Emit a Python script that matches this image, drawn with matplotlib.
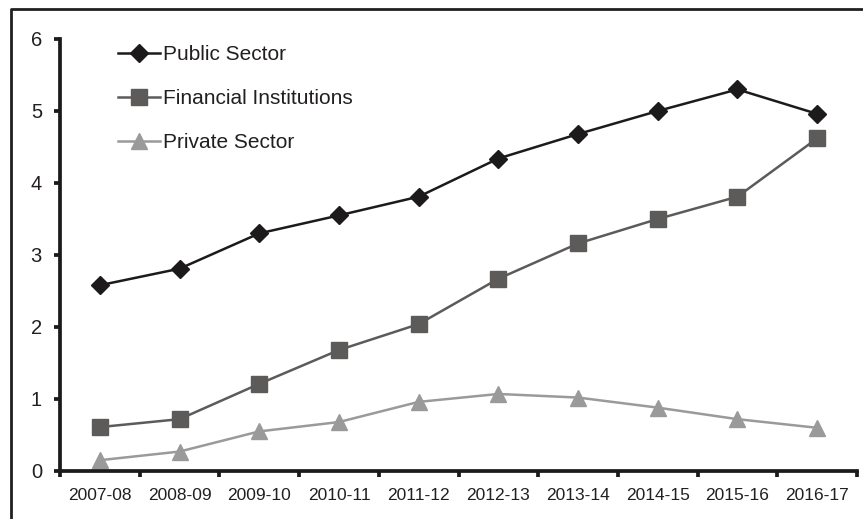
import matplotlib
matplotlib.use('Agg')
import matplotlib.pyplot as plt
from matplotlib.lines import Line2D
import numpy as np

years = ['2007-08', '2008-09', '2009-10', '2010-11', '2011-12',
         '2012-13', '2013-14', '2014-15', '2015-16', '2016-17']
public_sector = [2.58, 2.81, 3.30, 3.55, 3.81, 4.34, 4.68, 5.00, 5.30, 4.96]
financial_inst = [0.61, 0.72, 1.21, 1.68, 2.04, 2.67, 3.16, 3.50, 3.81, 4.62]
private_sector = [0.15, 0.27, 0.55, 0.68, 0.96, 1.07, 1.02, 0.88, 0.72, 0.60]

plt.rcParams['font.family'] = ['Liberation Sans', 'DejaVu Sans']
txt = '#231f20'

fig = plt.figure(figsize=(8.63, 5.19), dpi=100)
ax = fig.add_axes([60 / 863, 1 - 471 / 519, 797 / 863, 432 / 519])

x = np.arange(len(years))
ax.plot(x, public_sector, color='#1c1a1a', lw=1.8, marker='D', ms=8.8,
        label='Public Sector')
ax.plot(x, financial_inst, color='#5d5a5a', lw=1.8, marker='s', ms=11.5,
        label='Financial Institutions')
ax.plot(x, private_sector, color='#9a9a9a', lw=1.8, marker='^', ms=11.5,
        label='Private Sector')

ax.set_xlim(-0.5, len(years) - 0.5)
ax.set_ylim(0, 6)
ax.set_yticks(range(7))

# category boundaries get the tick marks, labels sit in between
ax.set_xticks(np.arange(len(years) + 1) - 0.5)
ax.set_xticklabels([])
ax.set_xticks(x, minor=True)
ax.set_xticklabels(years, minor=True)
ax.tick_params(axis='x', which='minor', length=0, pad=12, labelsize=12.5,
               labelcolor=txt)
ax.tick_params(axis='x', which='major', length=4, width=2.7, color='#1c1a1a')
ax.tick_params(axis='y', length=4, width=2.7, color='#1c1a1a', pad=9,
               labelsize=14.5, labelcolor=txt)

for side in ['top', 'right']:
    ax.spines[side].set_visible(False)
for side in ['left', 'bottom']:
    ax.spines[side].set_linewidth(2.7)
    ax.spines[side].set_color('#1c1a1a')

leg = ax.legend(loc='upper left', bbox_to_anchor=(118 / 863, 1 - 45 / 519),
                bbox_transform=fig.transFigure, frameon=False, fontsize=15,
                handlelength=2.0, handletextpad=0.15, labelspacing=1.2,
                borderpad=0, borderaxespad=0)
for t in leg.get_texts():
    t.set_color(txt)

# outer frame line along the top and left edges
fig.add_artist(Line2D([10.5 / 863, 10.5 / 863, 1.0],
                      [0.0, 1 - 8.5 / 519, 1 - 8.5 / 519],
                      transform=fig.transFigure, color='#231f20', lw=2))

fig.savefig('out.png', dpi=100)
